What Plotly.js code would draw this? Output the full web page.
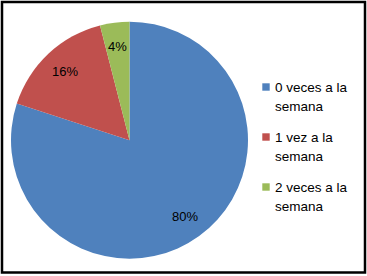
<!DOCTYPE html>
<html>
<head>
<meta charset="utf-8">
<script src="https://cdn.plot.ly/plotly-3.0.1.min.js"></script>
<style>html,body{margin:0;padding:0;background:#fff;}#chart{width:367px;height:276px;}</style>
</head>
<body>
<div id="chart"></div>
<script>
// Data
const categories = ["0 veces a la semana", "1 vez a la semana", "2 veces a la semana"];
const values = [80, 16, 4];
const colors = ["#4F81BD", "#C0504D", "#9BBB59"];

// Layout constants (pixels)
const W = 367, H = 276;
const cx = 129.5, cy = 140.2, r = 118.5;
const fontFam = "'Liberation Sans', Arial, sans-serif";
const px = x => x / W;
const py = y => 1 - y / H;

const total = values.reduce((a, b) => a + b, 0);
const annotations = [];
const shapes = [];

// percentage labels at 0.8 r along slice mid-angle (clockwise from top)
let cum = 0;
values.forEach((v, i) => {
  const mid = (cum + v / 2) / total * 2 * Math.PI;
  cum += v;
  const rf = 0.8;
  annotations.push({
    xref: 'paper', yref: 'paper', showarrow: false,
    x: px(cx + rf * r * Math.sin(mid)), y: py(cy - rf * r * Math.cos(mid)),
    xanchor: 'center', yanchor: 'middle',
    text: Math.round(v / total * 100) + '%',
    font: {family: fontFam, size: 13, color: '#000'}
  });
});

// custom legend
categories.forEach((c, i) => {
  const yc = 87 + 50 * i;
  shapes.push({
    type: 'rect', xref: 'paper', yref: 'paper',
    x0: px(262.3), x1: px(269.7), y0: py(yc + 3.7), y1: py(yc - 3.7),
    fillcolor: colors[i], line: {width: 0}
  });
  const lines = c.replace(' semana', '\nsemana').split('\n');
  lines.forEach((t, j) => {
    annotations.push({
      xref: 'paper', yref: 'paper', showarrow: false,
      x: px(273), y: py(92.3 + 50 * i + 18.7 * j - 4.7),
      xanchor: 'left', yanchor: 'middle',
      text: t, font: {family: fontFam, size: 13.5, color: '#000'}
    });
  });
});

// outer frame
shapes.push({
  type: 'rect', xref: 'paper', yref: 'paper',
  x0: px(2), x1: px(365), y0: py(272.5), y1: py(2),
  line: {color: '#000', width: 2.5}, fillcolor: 'rgba(0,0,0,0)'
});

const trace = {
  type: 'pie',
  labels: categories,
  values: values,
  sort: false,
  direction: 'clockwise',
  rotation: 0,
  marker: {colors: colors, line: {width: 0}},
  textinfo: 'none',
  textposition: 'none',
  hoverinfo: 'label+percent',
  domain: {x: [px(cx - r), px(cx + r)], y: [py(cy + r), py(cy - r)]}
};

const layout = {
  width: W, height: H,
  margin: {l: 0, r: 0, t: 0, b: 0},
  paper_bgcolor: '#fff',
  showlegend: false,
  annotations: annotations,
  shapes: shapes
};

Plotly.newPlot('chart', [trace], layout, {displayModeBar: false, staticPlot: true});
</script>
</body>
</html>
